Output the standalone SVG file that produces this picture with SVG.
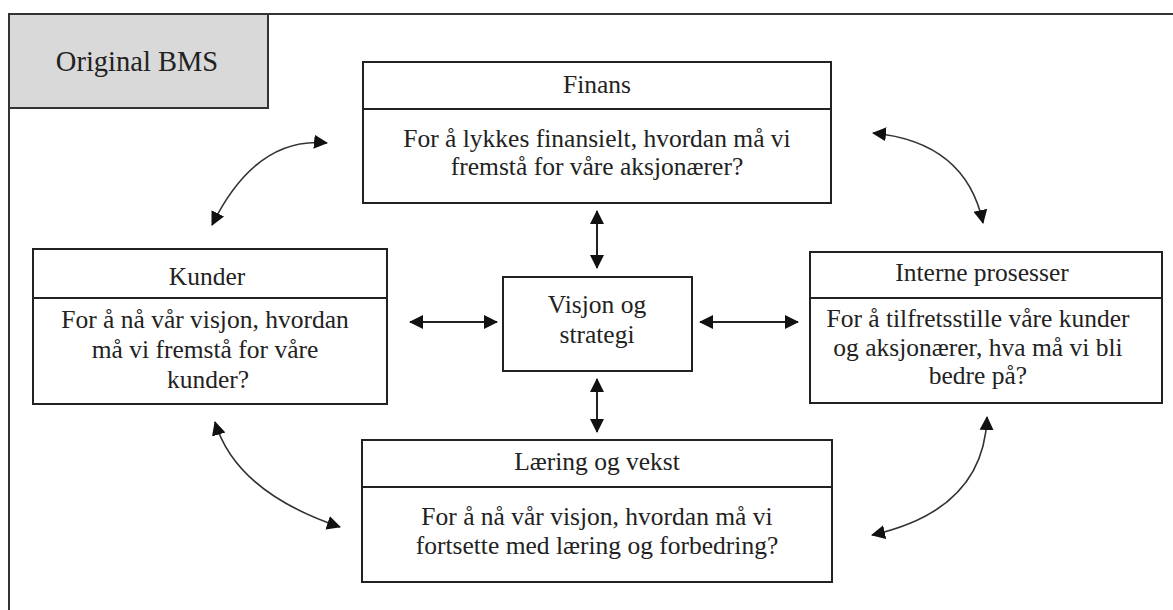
<svg xmlns="http://www.w3.org/2000/svg" width="1173" height="610" viewBox="0 0 1173 610">
<style>
text{font-family:"Liberation Serif","Times New Roman",serif;font-size:25.5px;fill:#222;text-anchor:middle}
.box{fill:#fff;stroke:#222;stroke-width:2}
.ln{stroke:#222;stroke-width:2}
.cv{fill:none;stroke:#333;stroke-width:1.6;marker-start:url(#ah);marker-end:url(#ah)}
.st{fill:none;stroke:#222;stroke-width:2;marker-start:url(#ah);marker-end:url(#ah)}
</style>
<defs>
<marker id="ah" markerUnits="userSpaceOnUse" markerWidth="16" markerHeight="16" refX="13" refY="7" orient="auto-start-reverse" viewBox="0 0 16 14"><path d="M0,0 L14,7 L0,14 z" fill="#111"/></marker>
</defs>
<rect width="1173" height="610" fill="#fff"/>
<g id="frame">
<path d="M9,610 V14 H1173" fill="none" stroke="#333" stroke-width="2"/>
</g>
<g id="title">
<rect x="9" y="14" width="259" height="94" fill="#d9d9d9" stroke="#333" stroke-width="2"/>
<text x="137" y="71" style="font-size:28.5px">Original BMS</text>
</g>
<g id="finans">
<rect class="box" x="363" y="62" width="468" height="141"/>
<line class="ln" x1="363" y1="109" x2="831" y2="109"/>
<text x="597" y="93">Finans</text>
<text x="597" y="147">For å lykkes finansielt, hvordan må vi</text>
<text x="597" y="175">fremstå for våre aksjonærer?</text>
</g>
<g id="kunder">
<rect class="box" x="33" y="249" width="354" height="155"/>
<line class="ln" x1="33" y1="298" x2="387" y2="298"/>
<text x="207" y="285">Kunder</text>
<text x="205" y="328">For å nå vår visjon, hvordan</text>
<text x="205" y="358">må vi fremstå for våre</text>
<text x="208" y="388">kunder?</text>
</g>
<g id="visjon">
<rect class="box" x="503" y="277" width="189" height="94"/>
<text x="597" y="313">Visjon og</text>
<text x="597" y="343">strategi</text>
</g>
<g id="interne">
<rect class="box" x="810" y="252" width="352" height="151"/>
<line class="ln" x1="810" y1="298" x2="1162" y2="298"/>
<text x="982" y="281">Interne prosesser</text>
<text x="978" y="327">For å tilfretsstille våre kunder</text>
<text x="978" y="356">og aksjonærer, hva må vi bli</text>
<text x="978" y="384">bedre på?</text>
</g>
<g id="laering">
<rect class="box" x="362" y="440" width="470" height="142"/>
<line class="ln" x1="362" y1="487" x2="832" y2="487"/>
<text x="597" y="470">Læring og vekst</text>
<text x="597" y="525">For å nå vår visjon, hvordan må vi</text>
<text x="597" y="554">fortsette med læring og forbedring?</text>
</g>
<g id="connectors">
<path class="st" d="M597,211 V268"/>
<path class="st" d="M597,379 V432"/>
<path class="st" d="M410,322 H497"/>
<path class="st" d="M700,322 H798"/>
<path class="cv" d="M212,225 Q256,136 327,143"/>
<path class="cv" d="M215,422 Q236,492 340,527"/>
<path class="cv" d="M873,133 Q966,142 983,223"/>
<path class="cv" d="M987,417 Q984,510 872,535"/>
</g>
</svg>
